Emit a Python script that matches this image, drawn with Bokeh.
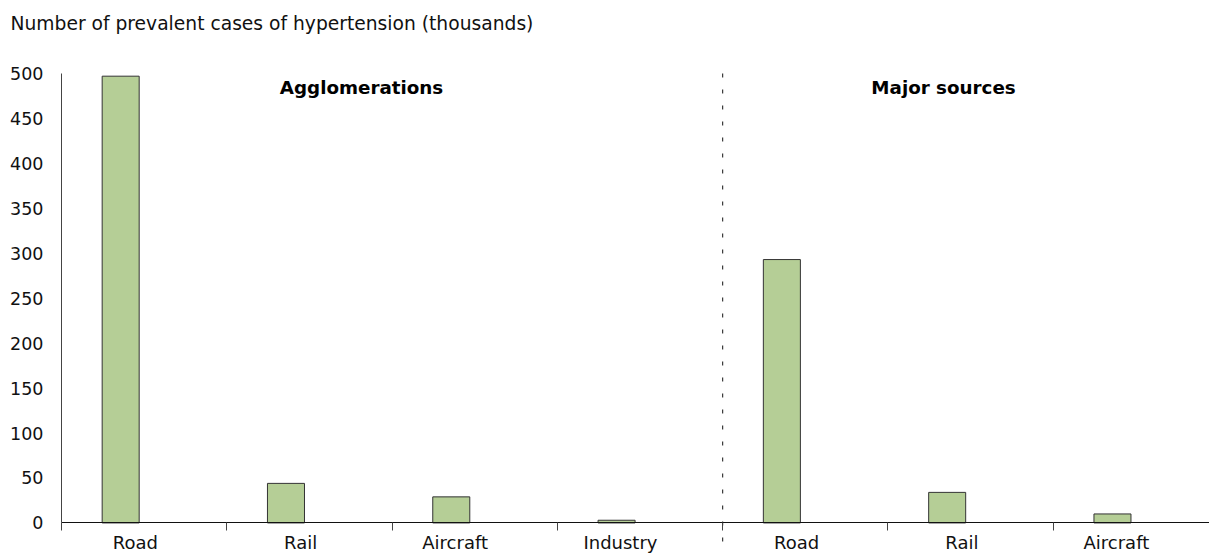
from bokeh.plotting import figure
from bokeh.models import Range1d, FixedTicker, Label
from bokeh.embed import file_html
from bokeh.resources import INLINE

# Data
title_text = "Number of prevalent cases of hypertension (thousands)"
categories = ["Road", "Rail", "Aircraft", "Industry", "Road", "Rail", "Aircraft"]
cases_thousands = [497, 44, 29, 3, 293, 34, 10]
y_ticks = [0, 50, 100, 150, 200, 250, 300, 350, 400, 450, 500]
group_labels = ["Agglomerations", "Major sources"]
group_sizes = [4, 3]

FONT = "DejaVu Sans"
n = len(categories)
bar_x = [i + 0.358 for i in range(n)]
y_min, y_max = -34.0, 581.2

p = figure(width=1209, height=553,
           x_range=Range1d(-0.369, 6.945), y_range=Range1d(y_min, y_max),
           output_backend="svg", toolbar_location=None,
           min_border_left=0, min_border_right=0, min_border_top=0, min_border_bottom=0)

p.vbar(x=bar_x, top=cases_thousands, width=0.224, bottom=0,
       fill_color="#b5ce96", line_color="#333333", line_width=1)

p.xgrid.visible = False
p.ygrid.visible = False
p.outline_line_color = None
p.background_fill_color = "white"
p.border_fill_color = "white"

xa = p.xaxis[0]
xa.fixed_location = 0
xa.bounds = (0, n)
xa.ticker = FixedTicker(ticks=[], minor_ticks=list(range(0, n + 1)))
xa.major_tick_out = 0
xa.major_tick_in = 0
xa.minor_tick_out = 8
xa.minor_tick_in = 0
xa.minor_tick_line_color = "#444444"
xa.axis_line_color = "#111111"
xa.major_label_text_font_size = "0px"
xa.major_label_standoff = 0

ya = p.yaxis[0]
ya.fixed_location = 0
ya.bounds = (0, y_ticks[-1])
ya.ticker = FixedTicker(ticks=y_ticks)
ya.major_tick_out = 0
ya.major_tick_in = 0
ya.minor_tick_out = 0
ya.minor_tick_in = 0
ya.axis_line_color = "#444444"
ya.major_label_text_font = FONT
ya.major_label_text_font_size = "17.5px"
ya.major_label_text_color = "#111111"
ya.major_label_standoff = 18

# title
p.add_layout(Label(x=0, y=y_ticks[-1], x_offset=-51, y_offset=49.5, text=title_text,
                   text_font=FONT, text_font_size="18.7px", text_align="left",
                   text_baseline="middle", text_color="#111111"))

# category labels below the axis
for i, c in enumerate(categories):
    p.add_layout(Label(x=i + 0.5, y=0, x_offset=2 - 2.7 * len(c), y_offset=-19.5,
                       text=c, text_font=FONT, text_font_size="18px",
                       text_align="center", text_baseline="middle",
                       text_color="#111111"))

# dashed separator between the two groups
sep = group_sizes[0]
p.segment(x0=[sep], y0=[y_ticks[-1]], x1=[sep], y1=[y_min],
          line_color="#111111", line_dash="4 12", line_width=1)

for txt, gx in zip(group_labels, [1.815, 5.336]):
    p.add_layout(Label(x=gx, y=484.8, text=txt, text_font=FONT, text_font_size="18.3px",
                       text_font_style="bold", text_align="center",
                       text_baseline="middle", text_color="#000000"))

open("out.html", "w").write(file_html(p, INLINE))
